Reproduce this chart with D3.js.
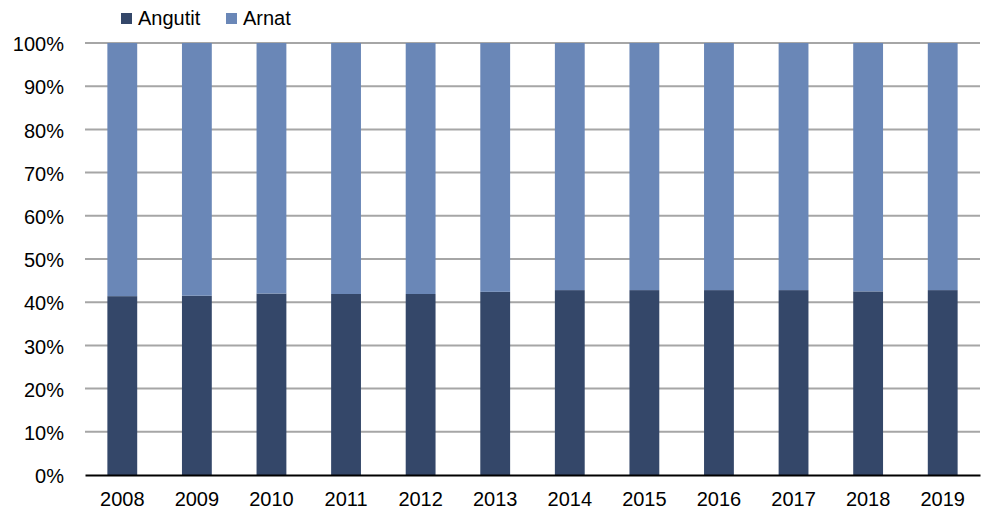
<!DOCTYPE html>
<html>
<head>
<meta charset="utf-8">
<script src="https://cdn.jsdelivr.net/npm/d3@7"></script>
<style>
  body { margin: 0; background: #fff; }
  text { font-family: "Liberation Sans", Arial, sans-serif; fill: #000; }
</style>
</head>
<body>
<div id="chart"></div>
<script>
var years = ["2008", "2009", "2010", "2011", "2012", "2013", "2014", "2015", "2016", "2017", "2018", "2019"];
var angutit = [41.4, 41.5, 42.0, 41.9, 41.9, 42.4, 42.8, 42.8, 42.8, 42.8, 42.5, 42.8];
var arnat = [58.6, 58.5, 58.0, 58.1, 58.1, 57.6, 57.2, 57.2, 57.2, 57.2, 57.5, 57.2];
var seriesNames = ["Angutit", "Arnat"];
var seriesColors = ["#344769", "#6a87b7"];
var yTicks = [0, 10, 20, 30, 40, 50, 60, 70, 80, 90, 100];

var svgWidth = 984;
var svgHeight = 513;

var margin = {
  top: 43,
  right: 4,
  bottom: 38,
  left: 85
};

var width = svgWidth - margin.left - margin.right;
var height = svgHeight - margin.top - margin.bottom;

var svg = d3.select("#chart")
  .append("svg")
  .attr("width", svgWidth)
  .attr("height", svgHeight);

var chartGroup = svg.append("g")
  .attr("transform", `translate(${margin.left}, ${margin.top})`);

// build rows for the stack
var rows = years.map(function(y, i) {
  return { year: y, Angutit: angutit[i], Arnat: arnat[i] };
});
var stacked = d3.stack().keys(seriesNames)(rows);

var xBandScale = d3.scaleBand()
  .domain(years)
  .range([0, width])
  .paddingInner(0.6)
  .paddingOuter(0.3);

var yLinearScale = d3.scaleLinear()
  .domain([0, 100])
  .range([height, 0]);

// gridlines
chartGroup.append("g")
  .selectAll("line")
  .data(yTicks.slice(1))
  .enter()
  .append("line")
  .attr("x1", 0)
  .attr("x2", width)
  .attr("y1", d => yLinearScale(d))
  .attr("y2", d => yLinearScale(d))
  .attr("stroke", "#a6a6a6")
  .attr("stroke-width", 2);

// bars
chartGroup.append("g")
  .selectAll("g")
  .data(stacked)
  .enter()
  .append("g")
  .attr("fill", (d, i) => seriesColors[i])
  .selectAll("rect")
  .data(d => d)
  .enter()
  .append("rect")
  .attr("x", d => xBandScale(d.data.year))
  .attr("y", d => yLinearScale(d[1]))
  .attr("width", xBandScale.bandwidth())
  .attr("height", d => yLinearScale(d[0]) - yLinearScale(d[1]));

// y axis labels
var leftAxis = d3.axisLeft(yLinearScale)
  .tickValues(yTicks)
  .tickFormat(d => d + "%")
  .tickSize(0)
  .tickPadding(21);

var yAxisG = chartGroup.append("g").call(leftAxis);
yAxisG.select(".domain").remove();
yAxisG.selectAll("text")
  .attr("font-size", "20px")
  .attr("font-family", "Liberation Sans, Arial, sans-serif")
  .attr("fill", "#000")
  .attr("dy", "0.38em");

// x axis
var bottomAxis = d3.axisBottom(xBandScale)
  .tickSize(0)
  .tickPadding(17);

var xAxisG = chartGroup.append("g")
  .attr("transform", `translate(0, ${height})`)
  .call(bottomAxis);
xAxisG.select(".domain")
  .attr("stroke", "#000")
  .attr("stroke-width", 2);
xAxisG.selectAll("text")
  .attr("font-size", "20px")
  .attr("font-family", "Liberation Sans, Arial, sans-serif")
  .attr("fill", "#000");

// legend
var legendX = [121, 226];
var legend = svg.append("g")
  .selectAll("g")
  .data(seriesNames)
  .enter()
  .append("g")
  .attr("transform", (d, i) => `translate(${legendX[i]}, 13)`);

legend.append("rect")
  .attr("width", 11)
  .attr("height", 11)
  .attr("fill", (d, i) => seriesColors[i]);

legend.append("text")
  .attr("x", 17)
  .attr("y", 12)
  .attr("font-size", "20px")
  .text(d => d);
</script>
</body>
</html>
